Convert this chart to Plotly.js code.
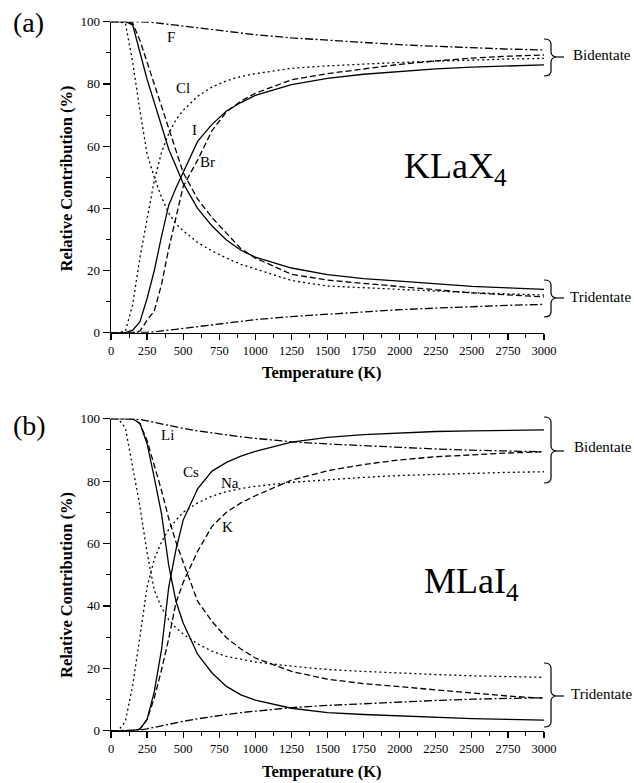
<!DOCTYPE html>
<html>
<head>
<meta charset="utf-8">
<script src="https://cdn.plot.ly/plotly-3.0.1.min.js"></script>
<style>html,body{margin:0;padding:0;background:#fff;}#chart{width:634px;height:783px;}</style>
</head>
<body>
<div id="chart"></div>
<script>
// ---------- data (temperature in K, relative contribution in %) ----------
const temps = [0,50,100,150,200,250,300,350,400,450,500,600,700,800,900,1000,1250,1500,1750,2000,2250,2500,2750,3000];

// Panel (a): KLaX4
const F_high  = [100,100,100,100,100,99.9,99.7,99.5,99.2,98.9,98.6,98,97.4,96.8,96.3,95.8,94.8,94,93.3,92.6,92.1,91.6,91.2,90.9];
const F_low   = [0,0,0,0,0,0.1,0.3,0.5,0.8,1.1,1.4,2,2.6,3.2,3.7,4.2,5.2,6,6.7,7.4,7.9,8.4,8.8,9.1];
const Cl_high = [0,0,0.5,9,24,37,49,58,64,68.5,71.5,76,79,81,82.4,83.3,85,85.8,86.4,86.9,87.3,87.7,88,88.2];
const Cl_low  = [100,100,99.5,87,71.5,57.5,50,43.5,38.5,35,32.8,29,26.3,24,22,20.5,16.8,15,14.4,14,13.4,12.9,12.5,12.1];
const Br_high = [0,0,0,0,0.5,4,7,15.5,27,37,47,55.5,65,71,74.5,77,81.3,83.3,84.9,86.3,87.4,88.3,88.9,89.3];
const Br_low  = [100,100,100,99.5,94,87,80,72.5,65.5,58.5,51.5,43,37,32,27,24,18.8,16.9,15.8,14.8,13.8,12.8,12.1,11.5];
const I_high  = [0,0,0,0.8,3.5,11,20,31,41,46.5,51.5,61.5,67,71.3,74,76.3,79.8,81.8,83.1,84,84.8,85.4,85.8,86.1];
const I_low   = [100,100,100,99,90,81.5,74,66.5,59,53.5,48,40,34.3,29.8,26.5,24.3,20.8,18.7,17.4,16.6,15.7,14.9,14.4,13.9];

// Panel (b): MLaI4
const Li_high = [100,100,100,100,99.8,99.3,98.8,98.3,97.8,97.3,96.9,96.1,95.4,94.8,94.2,93.7,92.6,91.9,91.3,90.8,90.3,89.9,89.6,89.4];
const Li_low  = [0,0,0,0,0.2,0.6,1.1,1.6,2.1,2.6,3,3.8,4.6,5.2,5.8,6.3,7.4,8.1,8.7,9.2,9.7,10.1,10.4,10.6];
const Na_high = [0,0,3,14.5,30,46,55,60.5,64.5,67.5,70,73,75.2,76.6,77.6,78.3,79.6,80.5,81.2,81.8,82.2,82.5,82.8,83];
const Na_low  = [100,100,97,85,72,57,45,39.5,35.5,33,31,27.8,25.5,23.8,22.8,22,20.7,19.6,19,18.4,18,17.6,17.3,17.1];
const K_high  = [0,0,0,0,0.5,3.6,10.5,19.5,29.5,41,47.5,57.5,65.5,70,73,75.3,80.3,83.3,85.3,86.8,87.8,88.5,89,89.4];
const K_low   = [100,100,100,100,98.5,93,85,77,68,60.5,54,41.5,35,29.8,26.2,23.3,19,16.5,15.1,14.1,13,12,11.1,10.4];
const Cs_high = [0,0,0,0,0.5,3.6,12.5,26,46,58,67.5,77.5,83.2,86,88,89.5,92.5,94,94.9,95.5,95.9,96.1,96.3,96.4];
const Cs_low  = [100,100,100,100,98.5,92,81,69.5,53,41.5,34.5,24.5,18.5,14.2,11.5,9.8,7.2,5.8,5.2,4.7,4.3,3.9,3.6,3.4];

const xTicks = [0,250,500,750,1000,1250,1500,1750,2000,2250,2500,2750,3000];
const yTicks = [0,20,40,60,80,100];

// ---------- styling ----------
const W = 634, H = 783;
const SERIF = '"Liberation Serif", "Times New Roman", Times, serif';
const DASH = {solid:'solid', dash:'6px,3px', dot:'2px,3px', dashdot:'8px,2.5px,2px,2.5px'};
const px = v => v / W;
const py = v => 1 - v / H;

function tr(y, dash, xa, ya) {
  return {x: temps, y: y, type: 'scatter', mode: 'lines', xaxis: xa, yaxis: ya,
          line: {color: '#000', width: 1.3, dash: DASH[dash]}, hoverinfo: 'skip', showlegend: false};
}

const data = [
  tr(F_high,'dashdot','x','y'), tr(F_low,'dashdot','x','y'),
  tr(Cl_high,'dot','x','y'), tr(Cl_low,'dot','x','y'),
  tr(Br_high,'dash','x','y'), tr(Br_low,'dash','x','y'),
  tr(I_high,'solid','x','y'), tr(I_low,'solid','x','y'),
  tr(Li_high,'dashdot','x2','y2'), tr(Li_low,'dashdot','x2','y2'),
  tr(Na_high,'dot','x2','y2'), tr(Na_low,'dot','x2','y2'),
  tr(K_high,'dash','x2','y2'), tr(K_low,'dash','x2','y2'),
  tr(Cs_high,'solid','x2','y2'), tr(Cs_low,'solid','x2','y2')
];

function xAxis(anchor) {
  return {domain: [px(111), px(544)], anchor: anchor, range: [0, 3000],
    tickmode: 'array', tickvals: xTicks, ticktext: xTicks.map(String),
    ticks: 'outside', ticklen: 6, tickwidth: 1.2, tickcolor: '#000',
    minor: {dtick: 125, tick0: 0, ticks: 'outside', ticklen: 3.5, tickwidth: 1, tickcolor: '#000', showgrid: false},
    showline: true, linecolor: '#000', linewidth: 1.3, showgrid: false, zeroline: false,
    tickfont: {family: SERIF, size: 12.5, color: '#000'}, fixedrange: true};
}
function yAxis(anchor, top, bottom) {
  return {domain: [py(bottom), py(top)], anchor: anchor, range: [0, 100],
    tickmode: 'array', tickvals: yTicks, ticktext: yTicks.map(String),
    ticks: 'outside', ticklen: 7, tickwidth: 1.2, tickcolor: '#000',
    minor: {dtick: 10, tick0: 0, ticks: 'outside', ticklen: 4, tickwidth: 1, tickcolor: '#000', showgrid: false},
    showline: true, linecolor: '#000', linewidth: 1.3, showgrid: false, zeroline: false,
    tickfont: {family: SERIF, size: 13, color: '#000'}, fixedrange: true};
}

function txt(text, x, y, size, opts) {
  return Object.assign({text: text, xref: 'paper', yref: 'paper', x: px(x), y: py(y),
    xanchor: 'center', yanchor: 'middle', showarrow: false,
    font: {family: SERIF, size: size, color: '#000'}}, opts || {});
}

const annotations = [
  txt('(a)', 28, 23, 28), txt('(b)', 29, 425, 28),
  txt('KLaX<sub>4</sub>', 402, 169, 36, {xanchor: 'left'}),
  txt('MLaI<sub>4</sub>', 422, 583, 36, {xanchor: 'left'}),
  txt('F', 171, 37, 15), txt('Cl', 183.5, 88, 15), txt('I', 195, 130, 15), txt('Br', 207.5, 162, 15),
  txt('Li', 167, 435, 15), txt('Cs', 191, 472, 15), txt('Na', 229.5, 483, 15), txt('K', 227, 527, 15),
  txt('Bidentate', 571, 55, 15, {xanchor: 'left'}),
  txt('Tridentate', 568, 297, 15, {xanchor: 'left'}),
  txt('Bidentate', 572, 447, 15, {xanchor: 'left'}),
  txt('Tridentate', 569, 694, 15, {xanchor: 'left'}),
  txt('<b>Temperature (K)</b>', 321.5, 372, 16.5),
  txt('<b>Temperature (K)</b>', 321.5, 771, 16.5),
  txt('<b>Relative Contribution (%)</b>', 66, 178.5, 16.5, {textangle: -90}),
  txt('<b>Relative Contribution (%)</b>', 66, 585, 16.5, {textangle: -90})
];

function brace(x0, yT, yB, yM) {
  const x1 = x0 + 7, x2 = x0 + 14, r = 5;
  const P = (x, y) => px(x).toFixed(5) + ',' + py(y).toFixed(5);
  const d = 'M' + P(x0, yT) + ' Q' + P(x1, yT) + ' ' + P(x1, yT + r) +
            ' L' + P(x1, yM - r) + ' Q' + P(x1, yM) + ' ' + P(x2, yM) +
            ' Q' + P(x1, yM) + ' ' + P(x1, yM + r) +
            ' L' + P(x1, yB - r) + ' Q' + P(x1, yB) + ' ' + P(x0, yB);
  return {type: 'path', xref: 'paper', yref: 'paper', path: d, line: {color: '#000', width: 1.2}};
}
function tick(x, y) {
  return {type: 'line', xref: 'paper', yref: 'paper', x0: px(x), x1: px(x + 6), y0: py(y), y1: py(y),
          line: {color: '#000', width: 1.2}};
}

const shapes = [
  brace(544, 39, 76, 57), tick(558, 57),
  brace(544, 280, 317, 298), tick(558, 298),
  brace(544, 417, 483, 451), tick(558, 451),
  brace(544, 663, 727, 696), tick(558, 696)
];

const layout = {
  width: W, height: H, margin: {l: 0, r: 0, t: 0, b: 0},
  paper_bgcolor: '#fff', plot_bgcolor: 'rgba(0,0,0,0)',
  showlegend: false,
  xaxis: xAxis('y'), yaxis: yAxis('x', 21.7, 332.7),
  xaxis2: xAxis('y2'), yaxis2: yAxis('x2', 418.7, 730.7),
  annotations: annotations, shapes: shapes
};

Plotly.newPlot('chart', data, layout, {staticPlot: true, displayModeBar: false});
</script>
</body>
</html>
